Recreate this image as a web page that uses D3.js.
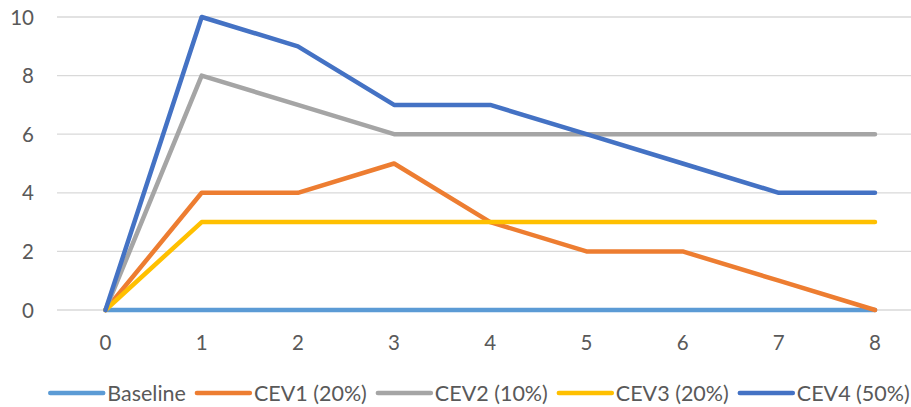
<!DOCTYPE html>
<html>
<head>
<meta charset="utf-8">
<script src="https://cdn.jsdelivr.net/npm/d3@7"></script>
<style>
  body { margin: 0; background: #fff; }
  text { font-family: Lato, "Open Sans", sans-serif; fill: #595959; }
</style>
</head>
<body>
<div class="chart"></div>
<script>
// data
const xLabels = ['0', '1', '2', '3', '4', '5', '6', '7', '8']
const yTicks = [0, 2, 4, 6, 8, 10]
const seriesNames = ['Baseline', 'CEV1 (20%)', 'CEV2 (10%)', 'CEV3 (20%)', 'CEV4 (50%)']
const baseline = [0, 0, 0, 0, 0, 0, 0, 0, 0]
const cev1 = [0, 4, 4, 5, 3, 2, 2, 1, 0]
const cev2 = [0, 8, 7, 6, 6, 6, 6, 6, 6]
const cev3 = [0, 3, 3, 3, 3, 3, 3, 3, 3]
const cev4 = [0, 10, 9, 7, 7, 6, 5, 4, 4]
const colors = ['#5B9BD5', '#ED7D31', '#A5A5A5', '#FFC000', '#4472C4']

const series = [baseline, cev1, cev2, cev3, cev4]

const width = 911
const height = 407
const fontSize = 20.5

const svg = d3.select('.chart').append('svg')
  .attr('width', width)
  .attr('height', height)

// plot area
const x = d3.scalePoint()
  .domain(xLabels)
  .range([105.5, 875])

const y = d3.scaleLinear()
  .domain([0, 10])
  .range([310, 17])

// gridlines
svg.append('g')
  .selectAll('line')
  .data(yTicks)
  .enter()
  .append('line')
  .attr('x1', 57)
  .attr('x2', 923)
  .attr('y1', d => y(d))
  .attr('y2', d => y(d))
  .attr('stroke', '#d9d9d9')
  .attr('stroke-width', 1.3)

// y labels
svg.append('g')
  .selectAll('text')
  .data(yTicks)
  .enter()
  .append('text')
  .attr('x', 34)
  .attr('y', d => y(d) + 7.5)
  .attr('text-anchor', 'end')
  .attr('font-size', fontSize)
  .text(d => d)

// x labels
svg.append('g')
  .selectAll('text')
  .data(xLabels)
  .enter()
  .append('text')
  .attr('x', d => x(d))
  .attr('y', 350)
  .attr('text-anchor', 'middle')
  .attr('font-size', fontSize)
  .text(d => d)

// lines
const line = d3.line()
  .x((d, i) => x(xLabels[i]))
  .y(d => y(d))

svg.append('g')
  .selectAll('path')
  .data(series)
  .enter()
  .append('path')
  .attr('d', line)
  .attr('fill', 'none')
  .attr('stroke', (d, i) => colors[i])
  .attr('stroke-width', 4.5)
  .attr('stroke-linejoin', 'round')
  .attr('stroke-linecap', 'round')

// legend
const legend = svg.append('g')
let lx = 0
seriesNames.forEach((name, i) => {
  const g = legend.append('g').attr('transform', `translate(${lx},0)`)
  g.append('line')
    .attr('x1', 2).attr('x2', 55)
    .attr('y1', 0).attr('y2', 0)
    .attr('stroke', colors[i])
    .attr('stroke-width', 4.5)
    .attr('stroke-linecap', 'round')
  const t = g.append('text')
    .attr('x', 59)
    .attr('y', 7.5)
    .attr('font-size', 21.5)
    .text(name)
  lx += 59 + t.node().getComputedTextLength() + 9
})
legend.attr('transform', `translate(${479 - (lx - 9) / 2},393)`)
</script>
</body>
</html>
